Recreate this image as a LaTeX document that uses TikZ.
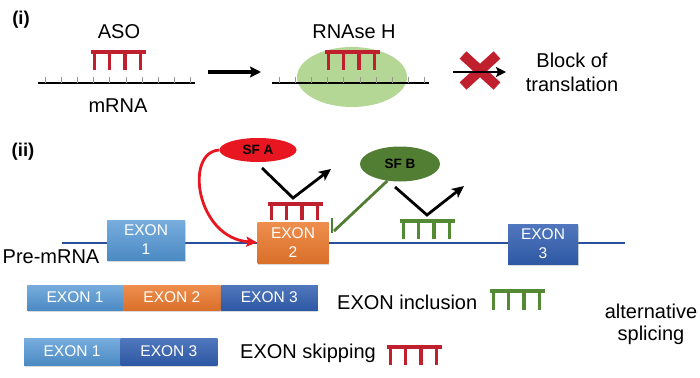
\documentclass[tikz,border=0pt]{standalone}
\usepackage{fontspec}
\setmainfont{Liberation Sans}
\usetikzlibrary{arrows.meta, positioning, shapes.geometric, shadows, calc}
\definecolor{ASORed}{RGB}{192, 32, 45}
\definecolor{ASOGreen}{RGB}{84, 138, 52}
\definecolor{SFARed}{RGB}{232, 22, 32}
\definecolor{SFBGreen}{RGB}{82, 126, 52}
\definecolor{RNAseGreen}{RGB}{180, 215, 150}
\definecolor{ExonLight}{RGB}{82, 150, 212}
\definecolor{ExonOrange}{RGB}{236, 122, 46}
\definecolor{ExonDark}{RGB}{50, 96, 178}
\definecolor{LineBlue}{RGB}{40, 78, 158}
\definecolor{TickGray}{RGB}{150, 150, 150}

\tikzset{
  txt/.style={font=\fontsize{20}{23}\selectfont, align=center, inner sep=0pt},
  tag/.style={font=\fontsize{18.5}{20}\selectfont\bfseries, inner sep=0pt},
  exon/.style={rectangle, text=white, align=center, inner sep=0pt,
    font=\fontsize{15.5}{19}\selectfont,
    drop shadow={opacity=0.3, shadow xshift=0.6pt, shadow yshift=-1.5pt}},
  exonlight/.style={exon, top color=ExonLight!78!white, bottom color=ExonLight!92!black},
  exonorange/.style={exon, top color=ExonOrange!85!white, bottom color=ExonOrange!92!black},
  exondark/.style={exon, top color=ExonDark!85!white, bottom color=ExonDark!92!black},
  factor/.style={ellipse, inner sep=0pt, font=\fontsize{13.5}{15}\selectfont\bfseries},
  combline/.style={line width=3.8pt},
  bent/.style={line width=2.8pt, -{Stealth[length=12pt, width=11pt, inset=3pt]}}
}

\begin{document}
\begin{tikzpicture}[x=1pt,y=-1pt]
  \path[use as bounding box] (0,0) rectangle (700,377);

  % (i) ASO and RNAse H
  \node[tag] (tagi) at (21,20) {(i)};
  \node[txt] (aso) at (119,32) {ASO};
  \node[txt] (mrna) at (118,106) {mRNA};
  \node[ellipse, fill=RNAseGreen, minimum width=110pt, minimum height=60pt] (rnase) at (352,77) {};
  \node[txt] (rnaseh) at (354,32) {RNAse H};
  \foreach \lx in {38,272}{
    \draw[black, line width=1.8pt] (\lx,83) -- ++(157,0);
    \foreach \i in {0,...,9}
      \draw[TickGray, line width=0.8pt] (\lx+7+16.2*\i,83) -- ++(0,-6);
  }
  \coordinate (cuta) at (208,72);
  \coordinate (cutb) at (261,72);
  \draw[line width=3.2pt, -{Stealth[length=11pt, width=11pt, inset=2pt]}] (cuta) -- (cutb);

  % blocked arrow
  \coordinate (blockx) at (480,70);
  \draw[ASORed, line width=10pt] ($(blockx)+(-17,-15)$) -- ($(blockx)+(17,16)$);
  \draw[ASORed, line width=10pt] ($(blockx)+(17,-15)$) -- ($(blockx)+(-17,16)$);
  \coordinate (blocka) at (453,72);
  \coordinate (blockb) at (506,72);
  \draw[line width=2.8pt, -{Stealth[length=10pt, width=10pt, inset=2pt]}] (blocka) -- (blockb);
  \node[txt, font=\fontsize{20}{24}\selectfont] (block) at (572,72) {Block of\\translation};

  % (ii) pre-mRNA and splicing factors
  \node[tag] (tagii) at (23,152) {(ii)};
  \draw[LineBlue, line width=2.8pt] (62,243) -- (625,243);
  \node[txt] (premrna) at (51,257) {Pre-mRNA};
  \node[exonlight, minimum width=78pt, minimum height=40pt] (ex1) at (146,240) {EXON\\1};
  \node[exonorange, minimum width=71pt, minimum height=41pt] (ex2) at (293,242.5) {EXON\\2};
  \node[exondark, minimum width=70pt, minimum height=40pt] (ex3) at (543,244) {EXON\\3};
  \node[factor, fill=SFARed, minimum width=77pt, minimum height=24pt] (sfa) at (258,150) {SF A};
  \node[factor, fill=SFBGreen, minimum width=80pt, minimum height=35pt] (sfb) at (400,164) {SF B};

  \draw[SFARed, line width=2.8pt, -{Stealth[length=11pt, width=10pt, inset=2pt]}]
    (sfa.west) .. controls (184,152) and (196,238) .. (ex2.west);
  \coordinate (sfbhit) at (334,231);
  \draw[SFBGreen, line width=2.8pt] (sfb.233) -- (sfbhit);
  \draw[SFBGreen, line width=2.8pt] (332,218) -- (332,233);

  \coordinate (bendaa) at (262,168);
  \coordinate (bendab) at (293,198);
  \coordinate (bendac) at (331,169);
  \draw[bent] (bendaa) -- (bendab) -- (bendac);
  \coordinate (bendba) at (395,187);
  \coordinate (bendbb) at (427,215);
  \coordinate (bendbc) at (464,186);
  \draw[bent] (bendba) -- (bendbb) -- (bendbc);

  % oligo combs
  \foreach \cx/\cy/\cc/\ch in {91/52/ASORed/18, 325/52/ASORed/18, 268/204/ASORed/16,
      400/221/ASOGreen/18, 490/291/ASOGreen/19, 387/347/ASORed/18}{
    \draw[\cc, combline] (\cx,\cy) -- ++(55,0);
    \foreach \t in {3.5,18.5,34,49.5}
      \draw[\cc, combline] (\cx+\t,\cy) -- ++(0,\ch);
  }

  % spliced products
  \node[exonlight, minimum width=96pt, minimum height=25pt] (rowaone) at (75,297.5) {EXON 1};
  \node[exonorange, minimum width=97pt, minimum height=25pt, right=0pt of rowaone] (rowatwo) {EXON 2};
  \node[exondark, minimum width=97pt, minimum height=25pt, right=0pt of rowatwo] (rowathree) {EXON 3};
  \node[txt, anchor=west] (incl) at (337,302) {EXON inclusion};

  \node[exonlight, minimum width=96pt, minimum height=27pt] (rowbone) at (72,351.5) {EXON 1};
  \node[exondark, minimum width=97pt, minimum height=27pt, right=0pt of rowbone] (rowbthree) {EXON 3};
  \node[txt, anchor=west] (skip) at (240,353) {EXON skipping};

  \node[txt, font=\fontsize{20}{22}\selectfont] (altspl) at (651,324) {alternative\\splicing};
\end{tikzpicture}
\end{document}
